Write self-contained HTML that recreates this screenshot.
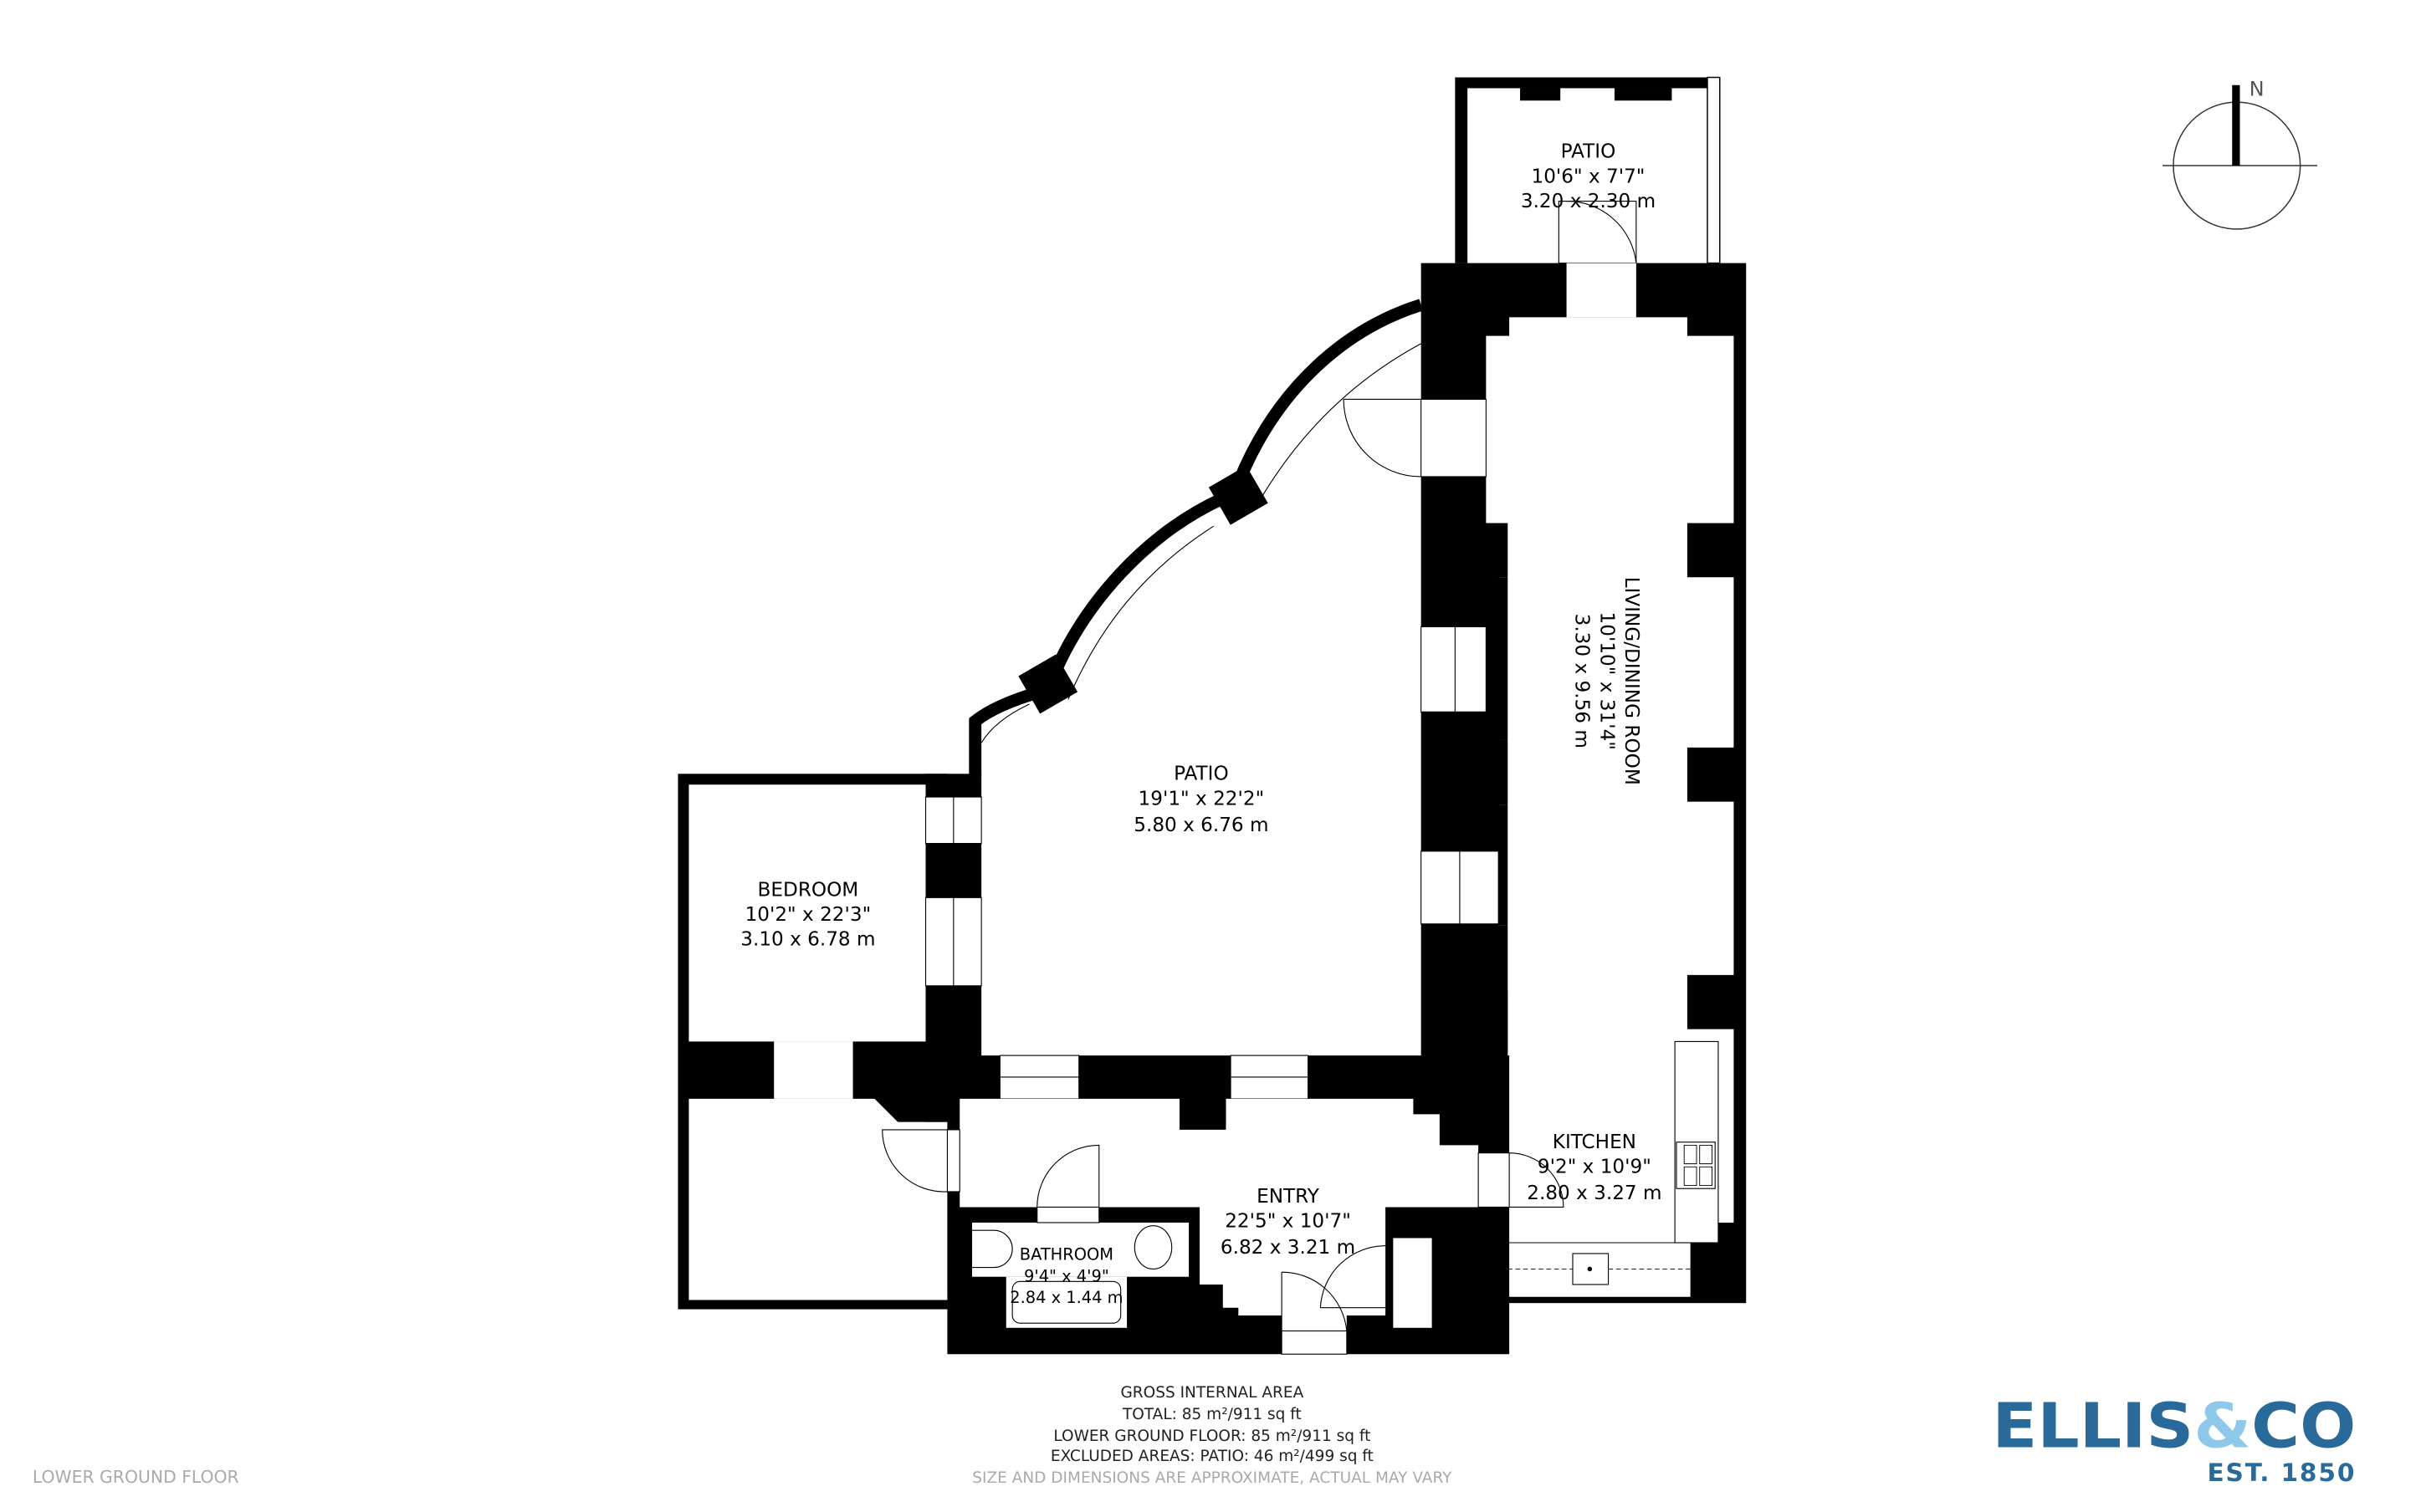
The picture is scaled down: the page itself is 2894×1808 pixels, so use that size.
<!DOCTYPE html>
<html><head><meta charset="utf-8"><style>
html,body{margin:0;padding:0;background:#fff;}
svg{display:block;}
text{font-family:"DejaVu Sans","Liberation Sans",sans-serif;}
</style></head><body>
<svg width="2894" height="1808" viewBox="0 0 1564 977" preserveAspectRatio="none" xmlns="http://www.w3.org/2000/svg">
<rect width="1564" height="977" fill="#fff"/>

<!-- top patio -->
<rect x="940" y="50" width="170" height="120" fill="#000"/>
<rect x="948" y="57" width="155" height="113" fill="#fff"/>
<rect x="1103" y="50" width="8" height="120" fill="#fff" stroke="#000" stroke-width="0.8"/>
<rect x="982" y="57" width="26" height="8" fill="#000"/>
<rect x="1043" y="57" width="37" height="8" fill="#000"/>
<rect x="1007" y="130" width="50" height="40" fill="none" stroke="#000" stroke-width="0.6"/>
<path d="M1012,130 A45,45 0 0 1 1057,170" fill="none" stroke="#000" stroke-width="0.6"/>

<!-- living block -->
<rect x="918" y="170" width="210" height="672" fill="#000"/>
<path d="M975,205 H1090 V217 H1120 V338 H1090 V373 H1120 V483 H1090 V518 H1120 V630 H1090 V665 H1120 V790 H1092 V838 H974 V680 H974 V640 H968 V598 H974 V520 H968 V478 H974 V373 H968 V338 H960 V217 H975 Z" fill="#fff"/>
<rect x="960" y="338" width="14" height="35" fill="#000"/>
<rect x="960" y="478" width="14" height="42" fill="#000"/>
<rect x="960" y="598" width="14" height="82" fill="#000"/>
<rect x="1012" y="170" width="45" height="35" fill="#fff"/>
<rect x="918" y="258" width="42" height="50" fill="#fff" stroke="#000" stroke-width="0.6"/>
<path d="M918,258 H868 A50,50 0 0 0 918,308" fill="none" stroke="#000" stroke-width="0.6"/>
<rect x="918" y="405" width="42" height="55" fill="#fff" stroke="#000" stroke-width="0.6"/>
<line x1="940" y1="405" x2="940" y2="460" stroke="#000" stroke-width="0.6"/>
<rect x="918" y="550" width="50" height="47" fill="#fff" stroke="#000" stroke-width="0.6"/>
<line x1="943" y1="550" x2="943" y2="597" stroke="#000" stroke-width="0.6"/>
<!-- kitchen -->
<rect x="1082" y="673" width="28" height="130" fill="#fff" stroke="#000" stroke-width="0.6"/>
<rect x="1083" y="738" width="25" height="30" fill="#fff" stroke="#000" stroke-width="0.6"/>
<path d="M1088,740 h8 v12 h-8z M1098,740 h8 v12 h-8z M1088,754 h8 v12 h-8z M1098,754 h8 v12 h-8z" fill="none" stroke="#000" stroke-width="0.5"/>
<path d="M974,803 H1082" stroke="#000" stroke-width="0.6"/>
<path d="M974,820 H1092" stroke="#000" stroke-width="0.5" stroke-dasharray="3,2"/>
<rect x="1016" y="810" width="23" height="20" fill="#fff" stroke="#000" stroke-width="0.6"/>
<circle cx="1027" cy="820" r="1.5" fill="#000"/>

<!-- curved wall -->
<path d="M918,197 C870,212 825,250 800,312 M790,322 C740,345 700,390 680,438 M672,447 C655,452 640,458 630,466 L630,502" fill="none" stroke="#000" stroke-width="8"/>
<path d="M918,222 C870,248 835,285 810,330 M784,340 C740,368 710,405 690,452 M665,455 C650,462 640,470 634,480" fill="none" stroke="#000" stroke-width="0.6"/>
<rect x="786" y="306" width="28" height="28" fill="#000" transform="rotate(-30 800 320)"/>
<rect x="663" y="428" width="28" height="28" fill="#000" transform="rotate(-30 677 442)"/>

<!-- bedroom -->
<rect x="438" y="500" width="174" height="346" fill="#000"/>
<rect x="445" y="507" width="153" height="166" fill="#fff"/>
<path d="M445,710 H565 L580,725 H612 V840 H575 L565,840 H445 Z" fill="#fff"/>
<path d="M565,840 L575,833 H612 V840 Z" fill="#fff"/>
<rect x="500" y="673" width="51" height="37" fill="#fff"/>

<!-- big patio wall -->
<rect x="598" y="500" width="36" height="210" fill="#000"/>
<rect x="598" y="515" width="36" height="30" fill="#fff" stroke="#000" stroke-width="0.6"/>
<line x1="616" y1="515" x2="616" y2="545" stroke="#000" stroke-width="0.6"/>
<rect x="598" y="580" width="36" height="57" fill="#fff" stroke="#000" stroke-width="0.6"/>
<line x1="616" y1="580" x2="616" y2="637" stroke="#000" stroke-width="0.6"/>

<!-- bottom block -->
<path d="M598,682 H975 V875 H612 V725 H598 Z" fill="#000"/>
<rect x="646" y="682" width="51" height="28" fill="#fff" stroke="#000" stroke-width="0.6"/>
<line x1="646" y1="696" x2="697" y2="696" stroke="#000" stroke-width="0.6"/>
<rect x="795" y="682" width="50" height="28" fill="#fff" stroke="#000" stroke-width="0.6"/>
<line x1="795" y1="696" x2="845" y2="696" stroke="#000" stroke-width="0.6"/>
<!-- entry -->
<path d="M620,710 H762 V730 H792 V710 H913 V720 H930 V740 H955 V780 H895 V795 H895 V850 H870 V860 H828 V850 H800 V845 H790 V830 H775 V780 H620 Z" fill="#fff"/>
<rect x="612" y="730" width="8" height="40" fill="#fff" stroke="#000" stroke-width="0.6"/>
<path d="M612,730 H570 A40,40 0 0 0 612,770" fill="none" stroke="#000" stroke-width="0.6"/>
<rect x="955" y="745" width="20" height="35" fill="#fff" stroke="#000" stroke-width="0.6"/>
<path d="M975,745 A35,35 0 0 1 1010,780 H975" fill="none" stroke="#000" stroke-width="0.6"/>
<rect x="828" y="860" width="42" height="15" fill="#fff" stroke="#000" stroke-width="0.6"/>
<path d="M828,822 V860 M828,822 A42,42 0 0 1 870,860" fill="none" stroke="#000" stroke-width="0.6"/>
<rect x="900" y="800" width="25" height="58" fill="#fff"/>
<path d="M895,805 A42,42 0 0 0 853,845 H895" fill="none" stroke="#000" stroke-width="0.6"/>
<!-- bathroom -->
<rect x="628" y="790" width="140" height="35" fill="#fff"/>
<rect x="650" y="825" width="78" height="33" fill="#fff"/>
<rect x="670" y="780" width="40" height="10" fill="#fff" stroke="#000" stroke-width="0.6"/>
<path d="M670,780 A40,40 0 0 1 710,740 V780" fill="none" stroke="#000" stroke-width="0.6"/>
<path d="M628,795 H642 A12,12 0 0 1 642,819 H628" fill="none" stroke="#000" stroke-width="0.6"/>
<ellipse cx="745" cy="806" rx="12" ry="14" fill="none" stroke="#000" stroke-width="0.6"/>
<rect x="654" y="828" width="70" height="27" rx="5" fill="none" stroke="#000" stroke-width="0.6"/>

<!-- labels -->
<g font-size="12.5" text-anchor="middle" fill="#000">
<text x="1026" y="102">PATIO</text><text x="1026" y="118">10'6" x 7'7"</text><text x="1026" y="134">3.20 x 2.30 m</text>
<text x="776" y="504">PATIO</text><text x="776" y="520">19'1" x 22'2"</text><text x="776" y="537">5.80 x 6.76 m</text>
<text x="522" y="579">BEDROOM</text><text x="522" y="595">10'2" x 22'3"</text><text x="522" y="611">3.10 x 6.78 m</text>
<text x="832" y="777">ENTRY</text><text x="832" y="793">22'5" x 10'7"</text><text x="832" y="810">6.82 x 3.21 m</text>
<text x="1030" y="742">KITCHEN</text><text x="1030" y="758">9'2" x 10'9"</text><text x="1030" y="775">2.80 x 3.27 m</text>
<g transform="translate(1040,440) rotate(90)"><text x="0" y="-10">LIVING/DINING ROOM</text><text x="0" y="6">10'10" x 31'4"</text><text x="0" y="22">3.30 x 9.56 m</text></g>
</g>
<g font-size="10.5" text-anchor="middle" fill="#000">
<text x="689" y="814">BATHROOM</text><text x="689" y="828">9'4" x 4'9"</text><text x="689" y="842">2.84 x 1.44 m</text>
</g>
<g font-size="10" text-anchor="middle" fill="#222">
<text x="783" y="903">GROSS INTERNAL AREA</text>
<text x="783" y="917">TOTAL: 85 m²/911 sq ft</text>
<text x="783" y="931">LOWER GROUND FLOOR: 85 m²/911 sq ft</text>
<text x="783" y="944">EXCLUDED AREAS: PATIO: 46 m²/499 sq ft</text>
<text x="783" y="958" fill="#aaa">SIZE AND DIMENSIONS ARE APPROXIMATE, ACTUAL MAY VARY</text>
</g>
<text x="21" y="958" font-size="11" fill="#aaa">LOWER GROUND FLOOR</text>

<!-- compass -->
<circle cx="1445" cy="107" r="41" fill="none" stroke="#333" stroke-width="0.8"/>
<line x1="1397" y1="107" x2="1497" y2="107" stroke="#333" stroke-width="0.8"/>
<rect x="1442" y="55" width="5" height="52" fill="#000"/>
<text x="1453" y="62" font-size="13" fill="#555">N</text>

<!-- logo -->
<text x="1287" y="935" font-family="Liberation Serif,serif" font-weight="bold" font-size="40" fill="#2a6a9a" textLength="235" lengthAdjust="spacingAndGlyphs">ELLIS<tspan fill="#8ec8ea">&amp;</tspan>CO</text>
<text x="1522" y="957" text-anchor="end" font-family="Liberation Sans,sans-serif" font-weight="bold" font-size="16" fill="#2a6a9a" letter-spacing="1">EST. 1850</text>
</svg>
</body></html>
